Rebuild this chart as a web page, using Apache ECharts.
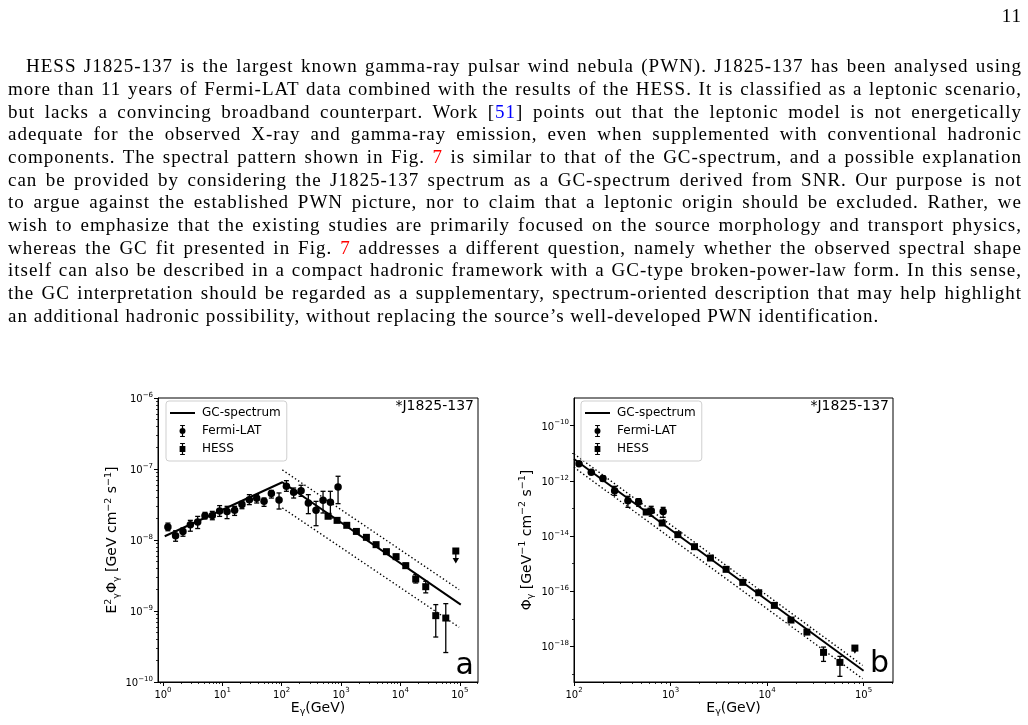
<!DOCTYPE html>
<html>
<head>
<meta charset="utf-8">
<script src="https://cdn.jsdelivr.net/npm/echarts@6/dist/echarts.min.js"></script>
<style>
body{margin:0;background:#fff;}
#chart{position:absolute;left:0;top:0;width:1028px;height:725px;}
#page{position:absolute;left:0;top:0;width:1028px;font-family:"Liberation Serif",serif;font-size:19px;letter-spacing:1px;color:#000;pointer-events:none;}
.ln{position:absolute;left:8px;width:1014px;height:23px;line-height:23px;text-align:justify;text-align-last:justify;}
.last{text-align:left;text-align-last:left;}
.cite{color:#0000ff;}
.ref{color:#ff0000;}
</style>
</head>
<body>
<div id="chart"></div>
<div id="page">
  <div class="ln" style="top:4px;text-align:right;text-align-last:right;">11</div>
  <div class="ln" style="top:54px;left:26px;width:996px;">HESS J1825-137 is the largest known gamma-ray pulsar wind nebula (PWN). J1825-137 has been analysed using</div>
  <div class="ln" style="top:77px;">more than 11 years of Fermi-LAT data combined with the results of the HESS. It is classified as a leptonic scenario,</div>
  <div class="ln" style="top:100px;">but lacks a convincing broadband counterpart. Work [<span class="cite">51</span>] points out that the leptonic model is not energetically</div>
  <div class="ln" style="top:122px;">adequate for the observed X-ray and gamma-ray emission, even when supplemented with conventional hadronic</div>
  <div class="ln" style="top:145px;">components. The spectral pattern shown in Fig. <span class="ref">7</span> is similar to that of the GC-spectrum, and a possible explanation</div>
  <div class="ln" style="top:168px;">can be provided by considering the J1825-137 spectrum as a GC-spectrum derived from SNR. Our purpose is not</div>
  <div class="ln" style="top:190px;">to argue against the established PWN picture, nor to claim that a leptonic origin should be excluded. Rather, we</div>
  <div class="ln" style="top:213px;">wish to emphasize that the existing studies are primarily focused on the source morphology and transport physics,</div>
  <div class="ln" style="top:236px;">whereas the GC fit presented in Fig. <span class="ref">7</span> addresses a different question, namely whether the observed spectral shape</div>
  <div class="ln" style="top:258px;">itself can also be described in a compact hadronic framework with a GC-type broken-power-law form. In this sense,</div>
  <div class="ln" style="top:281px;">the GC interpretation should be regarded as a supplementary, spectrum-oriented description that may help highlight</div>
  <div class="ln last" style="top:304px;">an additional hadronic possibility, without replacing the source’s well-developed PWN identification.</div>
</div>
<script>
// panel a : E^2 Phi  [GeV cm^-2 s^-1]
var fermiE_a = [1.21,1.63,2.17,2.89,3.84,5.1,6.78,9.0,12,16.1,21.4,28.5,37.9,50.4,67,90.2,120,159,212,281,379,497,661,890]
var fermiF_a = [1.52e-8,1.15e-8,1.32e-8,1.64e-8,1.79e-8,2.2e-8,2.22e-8,2.56e-8,2.53e-8,2.62e-8,3.15e-8,3.7e-8,3.86e-8,3.5e-8,4.5e-8,3.66e-8,5.7e-8,4.69e-8,4.95e-8,3.32e-8,2.62e-8,3.62e-8,3.4e-8,5.58e-8]
var fermiHi_a = [1.73e-8,1.35e-8,1.48e-8,1.89e-8,2.15e-8,2.45e-8,2.53e-8,3.05e-8,2.98e-8,2.98e-8,3.5e-8,4.35e-8,4.35e-8,3.9e-8,5.0e-8,4.6e-8,6.85e-8,5.4e-8,5.9e-8,4.35e-8,3.5e-8,4.85e-8,4.85e-8,7.9e-8]
var fermiLo_a = [1.35e-8,9.6e-9,1.13e-8,1.33e-8,1.45e-8,1.98e-8,1.93e-8,2.15e-8,2.0e-8,2.22e-8,2.76e-8,3.15e-8,3.32e-8,2.98e-8,3.9e-8,2.73e-8,4.85e-8,3.9e-8,4.12e-8,2.35e-8,1.59e-8,2.4e-8,2.04e-8,3.25e-8]

var hessE_a = [604,857,1247,1813,2673,3890,5810,8450,12300,18100,26700,39400,58100]
var hessF_a = [2.16e-8,1.89e-8,1.61e-8,1.32e-8,1.09e-8,8.6e-9,6.85e-9,5.82e-9,4.35e-9,2.82e-9,2.2e-9,8.6e-10,7.96e-10]
var hessHi_a = [2.3e-8,2.0e-8,1.7e-8,1.4e-8,1.16e-8,9.2e-9,7.3e-9,6.3e-9,4.7e-9,3.25e-9,2.62e-9,1.23e-9,1.27e-9]
var hessLo_a = [2.02e-8,1.78e-8,1.52e-8,1.24e-8,1.02e-8,8.0e-9,6.4e-9,5.4e-9,4.0e-9,2.48e-9,1.8e-9,4.3e-10,2.6e-10]
// upper limit: [E, value, arrow end]
var ulim_a = [85700, 7.0e-9, 4.74e-9]

var gcE_a = [1.07,102.6,1.04e5]
var gcF_a = [1.13e-8,6.5e-8,1.23e-9]
var bandE_a = [102.6,9.75e4]
var bandUp_a = [9.7e-8,2.0e-9]
var bandLow_a = [2.83e-8,5.9e-10]

// panel b : Phi  [GeV^-1 cm^-2 s^-1]
var fermiE_b = [112.7,151,199.5,263.6,362,467,631,839]
var fermiF_b = [4.19e-12,2.03e-12,1.2e-12,4.4e-13,1.91e-13,1.71e-13,8.3e-14,7.8e-14]
var fermiHi_b = [4.7e-12,2.3e-12,1.54e-12,6.3e-13,2.74e-13,2.26e-13,1.19e-13,1.09e-13]
var fermiLo_b = [3.7e-12,1.8e-12,9.6e-13,2.98e-13,1.09e-13,1.19e-13,5.2e-14,4.75e-14]

var hessE_b = [560,820,1191,1772,2592,3767,5603,8199,11910,17700,25900,38500,56900]
var hessF_b = [7.4e-14,2.96e-14,1.12e-14,4.1e-15,1.59e-15,6.19e-16,2.09e-16,8.8e-17,3.06e-17,9.0e-18,3.3e-18,6.07e-19,2.63e-19]
var hessHi_b = [7.9e-14,3.15e-14,1.19e-14,4.35e-15,1.69e-15,6.6e-16,2.22e-16,9.3e-17,3.25e-17,9.7e-18,3.8e-18,9.46e-19,4.35e-19]
var hessLo_b = [6.9e-14,2.78e-14,1.05e-14,3.85e-15,1.5e-15,5.8e-16,1.97e-16,8.3e-17,2.88e-17,8.3e-18,2.85e-18,2.86e-19,8.2e-20]
var ulim_b = [81300, 8.7e-19, 5.7e-19]

var gcE_b = [100,1e5]
var gcF_b = [6.19e-12,1.31e-19]
var bandE_b = [100,9.77e4]
var bandUp_b = [9.4e-12,2.05e-19]
var bandLow_b = [3.09e-12,6.76e-20]

// tick positions (decades)
var xMajor_a = [0,1,2,3,4,5]
var yMajor_a = [-10,-9,-8,-7,-6]
var xMajor_b = [2,3,4,5]
var yMajor_b = [-18,-16,-14,-12,-10]
var yMinor_b = [-19,-17,-15,-13,-11]

var FONT = 'DejaVu Sans'
var chart = echarts.init(document.getElementById('chart'))

function lg(v){ return Math.log10(v) }
function pts(E, F){ return E.map(function(e, i){ return [lg(e), lg(F[i])] }) }
function errs(E, lo, hi){ return E.map(function(e, i){ return [lg(e), lg(lo[i]), lg(hi[i])] }) }

function minorTicks(lo, hi){
	var out = []
	for (var n = Math.floor(lo) - 1; n <= Math.ceil(hi); n++) {
		for (var k = 2; k <= 9; k++) {
			var t = n + Math.log10(k)
			if (t >= lo && t <= hi) out.push(t)
		}
	}
	return out
}
function tickFmt(v){
	var n = Math.round(v)
	return '{b|10}{e|' + (n < 0 ? '−' : '') + Math.abs(n) + '}'
}
var tickRich = {
	b: {fontSize: 10, fontFamily: FONT, color: '#000', lineHeight: 13, verticalAlign: 'bottom'},
	e: {fontSize: 7, fontFamily: FONT, color: '#000', lineHeight: 7, verticalAlign: 'top'}
}
var nameRich = {
	n: {fontSize: 14, fontFamily: FONT, color: '#000', lineHeight: 18, verticalAlign: 'middle'},
	p: {fontSize: 9.5, fontFamily: FONT, color: '#000', lineHeight: 9, verticalAlign: 'top'},
	s: {fontSize: 9.5, fontFamily: FONT, color: '#000', lineHeight: 9, verticalAlign: 'bottom'}
}

function majorAxis(grid, pos, min, max, ticks, extra){
	var ax = {
		type: 'value', gridIndex: grid, position: pos, min: min, max: max,
		axisLine: {show: true, onZero: false, lineStyle: {color: '#000', width: 1}},
		axisTick: {show: true, length: 4, customValues: ticks, lineStyle: {color: '#000', width: 1}},
		axisLabel: {customValues: ticks, formatter: tickFmt, rich: tickRich, margin: 5},
		splitLine: {show: false}
	}
	for (var k in extra) ax[k] = extra[k]
	return ax
}
function minorAxis(grid, pos, min, max, ticks){
	return {
		type: 'value', gridIndex: grid, position: pos, min: min, max: max,
		axisLine: {show: false, onZero: false},
		axisTick: {show: true, length: 2, customValues: ticks, lineStyle: {color: '#000', width: 0.8}},
		axisLabel: {show: false},
		splitLine: {show: false}
	}
}

function errBar(params, api){
	var x = api.value(0)
	var top = api.coord([x, api.value(2)])
	var bot = api.coord([x, api.value(1)])
	var st = {stroke: '#000', lineWidth: 1.3}
	return {type: 'group', children: [
		{type: 'line', shape: {x1: top[0], y1: top[1], x2: bot[0], y2: bot[1]}, style: st},
		{type: 'line', shape: {x1: top[0] - 2.5, y1: top[1], x2: top[0] + 2.5, y2: top[1]}, style: st},
		{type: 'line', shape: {x1: bot[0] - 2.5, y1: bot[1], x2: bot[0] + 2.5, y2: bot[1]}, style: st}
	]}
}
function upperLimit(params, api){
	var x = api.value(0)
	var p0 = api.coord([x, api.value(1)])
	var p1 = api.coord([x, api.value(2)])
	return {type: 'group', children: [
		{type: 'line', shape: {x1: p0[0], y1: p0[1], x2: p1[0], y2: p1[1] - 4}, style: {stroke: '#000', lineWidth: 1.3}},
		{type: 'polygon', shape: {points: [[p1[0] - 3.2, p1[1] - 5], [p1[0] + 3.2, p1[1] - 5], [p1[0], p1[1] + 0.5]]}, style: {fill: '#000'}}
	]}
}

function panelSeries(xi, yi, d){
	return [
		{name: 'GC-spectrum', type: 'line', xAxisIndex: xi, yAxisIndex: yi, symbol: 'none', silent: true, symbolKeepAspect: true,
			data: pts(d.gcE, d.gcF), lineStyle: {color: '#000', width: 2}, itemStyle: {color: '#000'}, z: 3},
		{name: 'band-up', type: 'line', xAxisIndex: xi, yAxisIndex: yi, symbol: 'none', silent: true,
			data: pts(d.bandE, d.bandUp), lineStyle: {color: '#000', width: 1.4, type: [1.4, 2.4]}, z: 2},
		{name: 'band-low', type: 'line', xAxisIndex: xi, yAxisIndex: yi, symbol: 'none', silent: true,
			data: pts(d.bandE, d.bandLow), lineStyle: {color: '#000', width: 1.4, type: [1.4, 2.4]}, z: 2},
		{name: 'fermi-err', type: 'custom', xAxisIndex: xi, yAxisIndex: yi, renderItem: errBar, silent: true,
			encode: {x: 0, y: [1, 2]}, data: errs(d.fermiE, d.fermiLo, d.fermiHi), z: 4},
		{name: 'hess-err', type: 'custom', xAxisIndex: xi, yAxisIndex: yi, renderItem: errBar, silent: true,
			encode: {x: 0, y: [1, 2]}, data: errs(d.hessE, d.hessLo, d.hessHi), z: 4},
		{name: 'hess-ul', type: 'custom', xAxisIndex: xi, yAxisIndex: yi, renderItem: upperLimit, silent: true,
			encode: {x: 0, y: [1, 2]}, data: [[lg(d.ul[0]), lg(d.ul[1]), lg(d.ul[2])]], z: 4},
		{name: 'Fermi-LAT', type: 'scatter', xAxisIndex: xi, yAxisIndex: yi, symbol: 'circle', symbolSize: 7.5,
			symbolKeepAspect: true, data: pts(d.fermiE, d.fermiF), itemStyle: {color: '#000', opacity: 1}, z: 5},
		{name: 'HESS', type: 'scatter', xAxisIndex: xi, yAxisIndex: yi, symbol: 'rect', symbolSize: 7,
			symbolKeepAspect: true, data: pts(d.hessE.concat([d.ul[0]]), d.hessF.concat([d.ul[1]])),
			itemStyle: {color: '#000', opacity: 1}, z: 5}
	]
}

var panelA = {gcE: gcE_a, gcF: gcF_a, bandE: bandE_a, bandUp: bandUp_a, bandLow: bandLow_a,
	fermiE: fermiE_a, fermiF: fermiF_a, fermiLo: fermiLo_a, fermiHi: fermiHi_a,
	hessE: hessE_a, hessF: hessF_a, hessLo: hessLo_a, hessHi: hessHi_a, ul: ulim_a}
var panelB = {gcE: gcE_b, gcF: gcF_b, bandE: bandE_b, bandUp: bandUp_b, bandLow: bandLow_b,
	fermiE: fermiE_b, fermiF: fermiF_b, fermiLo: fermiLo_b, fermiHi: fermiHi_b,
	hessE: hessE_b, hessF: hessF_b, hessLo: hessLo_b, hessHi: hessHi_b, ul: ulim_b}

var iconLine = 'path://M0,0H25V2H0Z'
var iconFermi = 'path://M3,0H7V0.8H5.5V2.5H4.5V0.8H3Z M4.5,7.5H5.5V9.2H7V10H3V9.2H4.5Z M7.5,5A2.5,2.5,0,1,1,2.5,5A2.5,2.5,0,1,1,7.5,5Z'
var iconHess = 'path://M3,0H7V0.8H5.5V2.6H4.5V0.8H3Z M4.5,7.4H5.5V9.2H7V10H3V9.2H4.5Z M2.6,2.6H7.4V7.4H2.6Z'

function legendAt(left){
	return {
		left: left, top: 401, orient: 'vertical', itemWidth: 25, itemHeight: 12, itemGap: 6,
		padding: [6, 6, 6, 4], borderColor: '#cfcfcf', borderWidth: 1, borderRadius: 3,
		backgroundColor: 'rgba(255,255,255,0.8)', selectedMode: false,
		textStyle: {fontFamily: FONT, fontSize: 12, color: '#000', padding: [0, 0, 0, 2]},
		data: [{name: 'GC-spectrum', icon: iconLine}, {name: 'Fermi-LAT', icon: iconFermi}, {name: 'HESS', icon: iconHess}]
	}
}

var yNameA = '{n|E}{p|2}{s|γ}{n|Φ}{s|γ}{n| [GeV cm}{p|−2}{n| s}{p|−1}{n|]}'
var yNameB = '{n|Φ}{s|γ}{n| [GeV}{p|−1}{n| cm}{p|−2}{n| s}{p|−1}{n|]}'
var xName = '{n|E}{s|γ}{n|(GeV)}'

var option = {
	animation: false,
	backgroundColor: 'transparent',
	grid: [
		{left: 158, top: 398, width: 320, height: 284, show: true, borderColor: '#000', borderWidth: 1, containLabel: false},
		{left: 574, top: 398, width: 319, height: 284, show: true, borderColor: '#000', borderWidth: 1, containLabel: false}
	],
	xAxis: [
		majorAxis(0, 'bottom', -0.084, 5.307, xMajor_a, {name: xName, nameLocation: 'middle', nameGap: 14, nameTextStyle: {rich: nameRich}}),
		minorAxis(0, 'bottom', -0.084, 5.307, minorTicks(-0.084, 5.307)),
		majorAxis(1, 'bottom', 2, 5.305, xMajor_b, {name: xName, nameLocation: 'middle', nameGap: 14, nameTextStyle: {rich: nameRich}}),
		minorAxis(1, 'bottom', 2, 5.305, minorTicks(2, 5.305))
	],
	yAxis: [
		majorAxis(0, 'left', -10, -6, yMajor_a, {name: yNameA, nameLocation: 'middle', nameGap: 36, nameTextStyle: {rich: nameRich}}),
		minorAxis(0, 'left', -10, -6, minorTicks(-10, -6)),
		majorAxis(1, 'left', -19.29, -9, yMajor_b, {name: yNameB, nameLocation: 'middle', nameGap: 38, nameTextStyle: {rich: nameRich}}),
		minorAxis(1, 'left', -19.29, -9, yMinor_b)
	],
	legend: [legendAt(166), legendAt(581)],
	graphic: [
		{type: 'text', right: 1028 - 474, top: 399, style: {text: '*J1825-137', font: '14px "DejaVu Sans"', fill: '#000'}},
		{type: 'text', right: 1028 - 889, top: 399, style: {text: '*J1825-137', font: '14px "DejaVu Sans"', fill: '#000'}},
		{type: 'text', right: 1028 - 474, top: 651, style: {text: 'a', font: '30px "DejaVu Sans"', fill: '#000'}},
		{type: 'text', right: 1028 - 889, top: 649, style: {text: 'b', font: '30px "DejaVu Sans"', fill: '#000'}}
	],
	series: panelSeries(0, 0, panelA).concat(panelSeries(2, 2, panelB))
}
chart.setOption(option)
</script>
</body>
</html>
